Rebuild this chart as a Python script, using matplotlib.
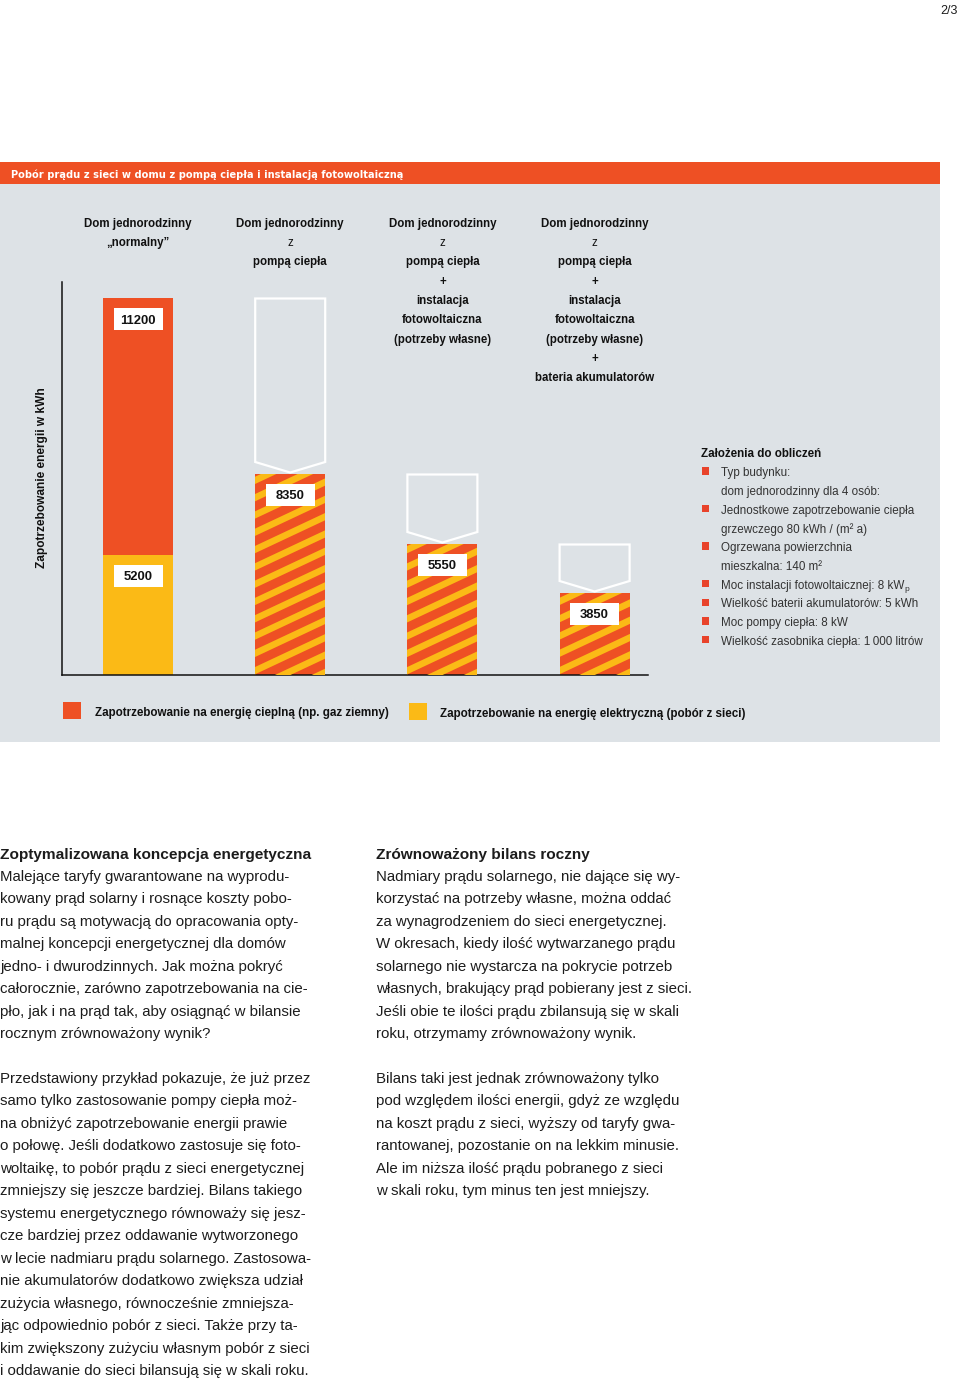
import matplotlib
matplotlib.use('Agg')
import matplotlib.pyplot as plt
from matplotlib.patches import Rectangle, Polygon
from matplotlib import transforms, font_manager

# ---------------- data ----------------
categories = [
    ["Dom jednorodzinny", "„normalny”"],
    ["Dom jednorodzinny", "z", "pompą ciepła"],
    ["Dom jednorodzinny", "z", "pompą ciepła", "+", "instalacja",
     "fotowoltaiczna", "(potrzeby własne)"],
    ["Dom jednorodzinny", "z", "pompą ciepła", "+", "instalacja",
     "fotowoltaiczna", "(potrzeby własne)", "+", "bateria akumulatorów"],
]
# drawn bar heights (schematic, arbitrary units)
bar_total_drawn = [377, 201, 131, 82]
bar1_electric_drawn = 120
# printed values (kWh)
label_total = [11200, 8350, 5550, 3850]
label_electric = 5200

legend_labels = ["Zapotrzebowanie na energię cieplną (np. gaz ziemny)",
                 "Zapotrzebowanie na energię elektryczną (pobór z sieci)"]

assumptions_title = "Założenia do obliczeń"
# (bullet, text, subscript)
assumptions = [
    (True, "Typ budynku:", ""),
    (False, "dom jednorodzinny dla 4 osób:", ""),
    (True, "Jednostkowe zapotrzebowanie ciepła", ""),
    (False, "grzewczego 80 kWh / (m² a)", ""),
    (True, "Ogrzewana powierzchnia", ""),
    (False, "mieszkalna: 140 m²", ""),
    (True, "Moc instalacji fotowoltaicznej: 8 kW", "p"),
    (True, "Wielkość baterii akumulatorów: 5 kWh", ""),
    (True, "Moc pompy ciepła: 8 kW", ""),
    (True, "Wielkość zasobnika ciepła: 1\u2009000 litrów", ""),
]

left_heading = "Zoptymalizowana koncepcja energetyczna"
left_p1 = [
    "Malejące taryfy gwarantowane na wyprodu-",
    "kowany prąd solarny i rosnące koszty pobo-",
    "ru prądu są motywacją do opracowania opty-",
    "malnej koncepcji energetycznej dla domów",
    "jedno- i dwurodzinnych. Jak można pokryć",
    "całorocznie, zarówno zapotrzebowania na cie-",
    "pło, jak i na prąd tak, aby osiągnąć w bilansie",
    "rocznym zrównoważony wynik?",
]
left_p2 = [
    "Przedstawiony przykład pokazuje, że już przez",
    "samo tylko zastosowanie pompy ciepła moż-",
    "na obniżyć zapotrzebowanie energii prawie",
    "o połowę. Jeśli dodatkowo zastosuje się foto-",
    "woltaikę, to pobór prądu z sieci energetycznej",
    "zmniejszy się jeszcze bardziej. Bilans takiego",
    "systemu energetycznego równoważy się jesz-",
    "cze bardziej przez oddawanie wytworzonego",
    "w lecie nadmiaru prądu solarnego. Zastosowa-",
    "nie akumulatorów dodatkowo zwiększa udział",
    "zużycia własnego, równocześnie zmniejsza-",
    "jąc odpowiednio pobór z sieci. Także przy ta-",
    "kim zwiększony zużyciu własnym pobór z sieci",
    "i oddawanie do sieci bilansują się w skali roku.",
]
right_heading = "Zrównoważony bilans roczny"
right_p1 = [
    "Nadmiary prądu solarnego, nie dające się wy-",
    "korzystać na potrzeby własne, można oddać",
    "za wynagrodzeniem do sieci energetycznej.",
    "W okresach, kiedy ilość wytwarzanego prądu",
    "solarnego nie wystarcza na pokrycie potrzeb",
    "własnych, brakujący prąd pobierany jest z sieci.",
    "Jeśli obie te ilości prądu zbilansują się w skali",
    "roku, otrzymamy zrównoważony wynik.",
]
right_p2 = [
    "Bilans taki jest jednak zrównoważony tylko",
    "pod względem ilości energii, gdyż ze względu",
    "na koszt prądu z sieci, wyższy od taryfy gwa-",
    "rantowanej, pozostanie on na lekkim minusie.",
    "Ale im niższa ilość prądu pobranego z sieci",
    "w skali roku, tym minus ten jest mniejszy.",
]

# ---------------- style ----------------
ORANGE = '#ee5024'
YELLOW = '#fbba16'
PANEL = '#dde2e6'
TXT = '#1c1c1c'
SANS = ['Liberation Sans', 'DejaVu Sans']
names = {f.name for f in font_manager.fontManager.ttflist}
HAS_NARROW = 'Liberation Sans Narrow' in names
NARROW = ['Liberation Sans Narrow', 'Liberation Sans', 'DejaVu Sans'] if HAS_NARROW else SANS

W, H = 960, 1380
fig = plt.figure(figsize=(9.6, 13.8), dpi=100)
fig.patch.set_facecolor('white')
renderer = fig.canvas.get_renderer()


def fx(x):
    return x / W


def fy(y):
    return 1 - y / H


def ty(y):
    # text vertical position (visual centre correction)
    return fy(y + 2)


def rect_px(x0, y0, x1, y1, color, z=-1):
    fig.patches.append(Rectangle((fx(x0), fy(y1)), (x1 - x0) / W, (y1 - y0) / H,
                                 transform=fig.transFigure, facecolor=color,
                                 edgecolor='none', zorder=z))


# page number
fig.text(fx(958), ty(9), "2/3", ha='right', va='center', fontsize=9,
         family=NARROW, color=TXT)

# header band and panel
rect_px(0, 162, 940, 184, ORANGE)
rect_px(0, 184, 940, 742, PANEL)
fig.text(fx(11), ty(173), "Pobór prądu z sieci w domu z pompą ciepła i instalacją fotowoltaiczną",
         ha='left', va='center', fontsize=7.15, weight='bold', color='white',
         family=['DejaVu Sans'])

# ---------------- chart axes ----------------
spacing_px = 152.2
ax = fig.add_axes([fx(62), fy(675), (648 - 62) / W, (675 - 282) / H])
ax.set_zorder(1)
ax.set_facecolor('none')
x0lim = -76 / spacing_px
ax.set_xlim(x0lim, x0lim + 586 / spacing_px)
ax.set_ylim(0, 393)
for s in ['top', 'right']:
    ax.spines[s].set_visible(False)
for s in ['left', 'bottom']:
    ax.spines[s].set_color('#111111')
    ax.spines[s].set_linewidth(1.1)
ax.set_xticks([])
ax.set_yticks([])

xs = list(range(len(categories)))
bw = 70 / spacing_px

# bar 1: electric (yellow) + heat (orange)
ax.bar(xs[0], bar1_electric_drawn, width=bw, color=YELLOW, linewidth=0, zorder=2)
ax.bar(xs[0], bar_total_drawn[0] - bar1_electric_drawn, bottom=bar1_electric_drawn,
       width=bw, color=ORANGE, linewidth=0, zorder=2)

# bars 2-4: striped (mixed)
striped = ax.bar(xs[1:], bar_total_drawn[1:], width=bw, color=ORANGE, linewidth=0, zorder=2)

ident = transforms.IdentityTransform()
slope = 0.47
period = 17.3
thick = 7.3
for patch in striped:
    bb = patch.get_window_extent()
    xa, xb = bb.x0 - 2, bb.x1 + 2
    c = bb.y0 - slope * (xb - xa) - period * 2
    while c < bb.y1 + period:
        poly = Polygon([(xa, c), (xb, c + slope * (xb - xa)),
                        (xb, c + slope * (xb - xa) + thick), (xa, c + thick)],
                       closed=True, facecolor=YELLOW, edgecolor='none',
                       transform=ident, zorder=3)
        ax.add_patch(poly)
        poly.set_clip_path(patch)
        c += period

# ghost outlines (reduction arrows)
for i in range(1, len(xs)):
    top = bar_total_drawn[i - 1] - 0.5
    own = bar_total_drawn[i]
    l, r = xs[i] - bw / 2, xs[i] + bw / 2
    ax.add_patch(Polygon([(l, top), (r, top), (r, own + 12), (xs[i], own + 1.5),
                          (l, own + 12)], closed=True, fill=False,
                         edgecolor='white', linewidth=1.6, zorder=4,
                         joinstyle='miter'))

# value labels
box_w = 49 / spacing_px
label_pos = [(xs[0], bar_total_drawn[0], label_total[0]),
             (xs[0], bar1_electric_drawn, label_electric)]
label_pos += [(xs[i], bar_total_drawn[i], label_total[i]) for i in range(1, len(xs))]
for x, top, val in label_pos:
    cy = top - 21
    ax.add_patch(Rectangle((x - box_w / 2, cy - 11), box_w, 22, facecolor='white',
                           edgecolor='none', zorder=5))
    ax.text(x, cy - 1.5, str(val), ha='center', va='center', fontsize=9.4, weight='bold',
            family=SANS, color='#111111', zorder=6)

# category labels
blend = transforms.blended_transform_factory(ax.transData, fig.transFigure)
for i, lines in enumerate(categories):
    for k, line in enumerate(lines):
        ax.text(xs[i], ty(222 + 19.25 * k), line, transform=blend, ha='center',
                va='center', fontsize=8.3, weight='normal' if line == 'z' else 'bold',
                family=SANS, color='#111111', clip_on=False)

# y label
fig.text(fx(42), fy(478), "Zapotrzebowanie energii w kWh", rotation=90,
         ha='center', va='center', fontsize=8.6, weight='bold', family=SANS,
         color='#111111')

# assumptions box
fig.text(fx(701), ty(452), assumptions_title, ha='left', va='center', fontsize=8.4,
         weight='bold', family=SANS, color='#111111')
for k, (bullet, line, sub) in enumerate(assumptions):
    y = 471 + 18.75 * k
    if bullet:
        rect_px(702, y - 3.5, 709, y + 3.5, '#e8432b', z=2)
    t = fig.text(fx(721), ty(y), line, ha='left', va='center', fontsize=8.4,
                 family=SANS, color='#333333')
    if sub:
        ext = t.get_window_extent(renderer=renderer)
        fig.text(fx(ext.x1 + 0.5), ty(y + 4), sub, ha='left', va='center',
                 fontsize=6.0, family=SANS, color='#333333')

# legend
rect_px(63, 702, 81, 719, ORANGE, z=2)
rect_px(409, 703, 427, 720, YELLOW, z=2)
lfs = 9.8 if HAS_NARROW else 8.4
fig.text(fx(95), ty(711), legend_labels[0], ha='left', va='center', fontsize=lfs,
         weight='bold', family=NARROW, color='#111111')
fig.text(fx(440), ty(712), legend_labels[1], ha='left', va='center', fontsize=lfs,
         weight='bold', family=NARROW, color='#111111')

# ---------------- body text ----------------
BFS = 10.8
HFS = 11.1


def column(x, heading, p1, p2):
    fig.text(fx(x), ty(853), heading, ha='left', va='center', fontsize=HFS,
             weight='bold', family=SANS, color=TXT)
    for k, line in enumerate(p1):
        fig.text(fx(x), ty(875 + 22.43 * k), line, ha='left', va='center',
                 fontsize=BFS, family=SANS, color=TXT)
    for k, line in enumerate(p2):
        fig.text(fx(x), ty(1077 + 22.46 * k), line, ha='left', va='center',
                 fontsize=BFS, family=SANS, color=TXT)


column(0, left_heading, left_p1, left_p2)
column(376, right_heading, right_p1, right_p2)

fig.savefig('out.png', dpi=100, facecolor='white')
